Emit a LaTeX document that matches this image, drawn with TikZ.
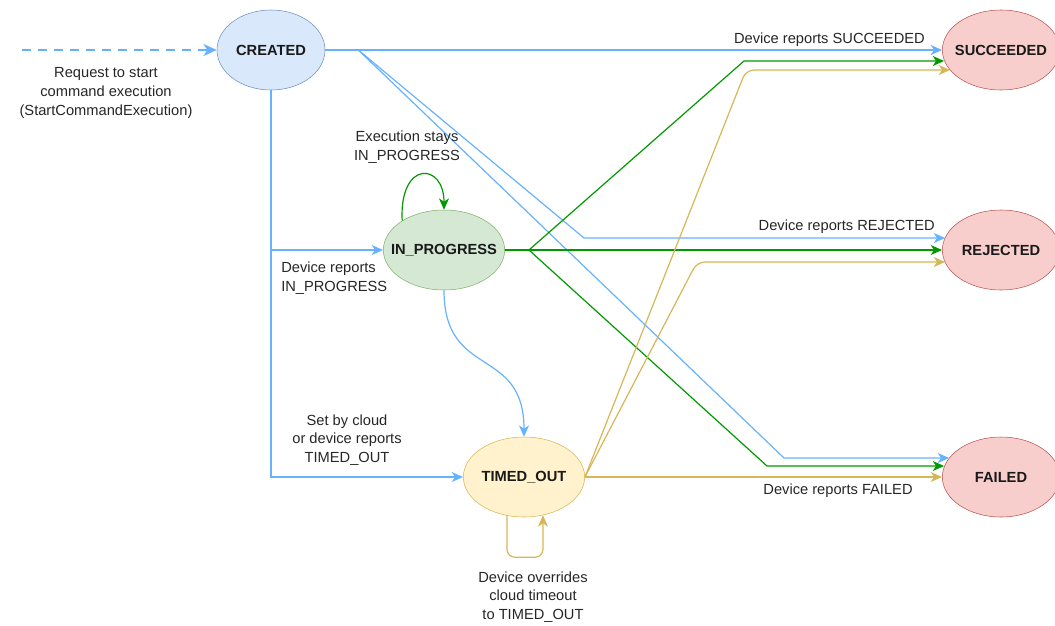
\documentclass[tikz,border=0pt]{standalone}
\usepackage{fontspec}
\setmainfont{Liberation Sans}
\usepackage{tikz}
\usetikzlibrary{
  shapes.geometric,
  arrows.meta,
  positioning,
  calc
}
\definecolor{lineblue}{HTML}{66B2FF}
\definecolor{linegreen}{HTML}{009900}
\definecolor{lineyellow}{HTML}{D6B656}
\definecolor{fillblue}{HTML}{DAE8FC}
\definecolor{drawblue}{HTML}{6C8EBF}
\definecolor{fillgreen}{HTML}{D5E8D4}
\definecolor{drawgreen}{HTML}{82B366}
\definecolor{fillyellow}{HTML}{FFF2CC}
\definecolor{fillred}{HTML}{F8CECC}
\definecolor{drawred}{HTML}{B85450}
\newcommand{\stname}[1]{\makebox[0pt]{#1}}

\begin{document}
\begin{tikzpicture}[
  x=0.75pt, y=-0.75pt,
  st/.style={
    ellipse, thin, inner sep=0pt, minimum width=88pt, minimum height=60pt,
    font=\fontsize{11}{12}\selectfont\bfseries, text=black!90
  },
  note/.style={font=\fontsize{11}{14}\selectfont, text=black!85, align=center, inner sep=0pt},
  arr/.style={-{Stealth[length=8.5pt,width=7.5pt,inset=2.5pt]}, line width=0.9pt},
  arrb/.style={arr, lineblue},
  arrg/.style={arr, linegreen},
  arry/.style={arr, lineyellow, rounded corners=6pt}
]
  \useasboundingbox (0,0) rectangle (1055,625);

  % states
  \node[st, fill=fillblue, draw=drawblue, minimum width=81pt]  (created) at (271,50)   {\stname{CREATED}};
  \node[st, fill=fillgreen, draw=drawgreen, minimum width=91pt] (prog)   at (444,250)  {\stname{IN\_PROGRESS}};
  \node[st, fill=fillyellow, draw=lineyellow, minimum width=91pt] (timed) at (524,477) {\stname{TIMED\_OUT}};
  \node[st, fill=fillred, draw=drawred] (succ) at (1001,50)  {\stname{SUCCEEDED}};
  \node[st, fill=fillred, draw=drawred] (rej)  at (1001,250) {\stname{REJECTED}};
  \node[st, fill=fillred, draw=drawred] (fail) at (1001,477) {\stname{FAILED}};

  % start request
  \coordinate (req) at (22,50);
  \draw[lineblue, line width=1.6pt, dash pattern=on 7pt off 5pt,
        -{Stealth[length=10pt,width=9pt,inset=3pt]}] (req) -- (created.west);
  \node[note] (reqlbl) at (106,93) {Request to start\\command execution\\(StartCommandExecution)};

  % from CREATED
  \draw[arrb] (created.east) -- (succ.west);
  \draw[arrb] (created.east) -- ++(33,0) -- (584,238) -- ($(rej.west)+(3,-12)$);
  \draw[arrb] (created.east) -- ++(33,0) -- (784,458) -- ($(fail.west)+(7,-19)$);
  \draw[arrb] (created.south) |- (prog.west);
  \draw[arrb] (created.south) |- (timed.west);
  \node[note, anchor=east] (succlbl) at (925,40) {Device reports SUCCEEDED};
  \node[note, anchor=east] (rejlbl)  at (935,227) {Device reports REJECTED};
  \node[note, align=left, anchor=west] (proglbl) at (281,278) {Device reports\\IN\_PROGRESS};
  \node[note] (timedlbl) at (347,440) {Set by cloud\\or device reports\\TIMED\_OUT};

  % from IN_PROGRESS
  \draw[arrg] (prog.145) .. controls (399,160) and (444,162) .. (prog.north);
  \node[note] (staylbl) at (407,147) {Execution stays\\IN\_PROGRESS};
  \draw[arrg] (prog.east) -- ++(24,0) -- (744,61) -- ($(succ.west)+(2,11)$);
  \draw[arrg] (prog.east) -- (rej.west);
  \draw[arrg] (prog.east) -- ++(24,0) -- (767,466) -- ($(fail.west)+(2,-11)$);
  \draw[arrb] (prog.south) .. controls (444,380) and (524,345) .. (timed.north);

  % from TIMED_OUT
  \draw[arry] (timed.east) -- (746,70) -- ($(succ.west)+(8,20)$);
  \draw[arry] (timed.east) -- (697,262) -- ($(rej.west)+(3,12)$);
  \draw[arry] (timed.east) -- (fail.west);
  \node[note] (faillbl) at (838,491) {Device reports FAILED};
  \draw[arry] ($(timed.south)+(-17,-2)$) -- ++(0,42) -- ++(36,0) -- ($(timed.south)+(19,-2)$);
  \node[note] (overlbl) at (533,597) {Device overrides\\cloud timeout\\to TIMED\_OUT};
\end{tikzpicture}
\end{document}
